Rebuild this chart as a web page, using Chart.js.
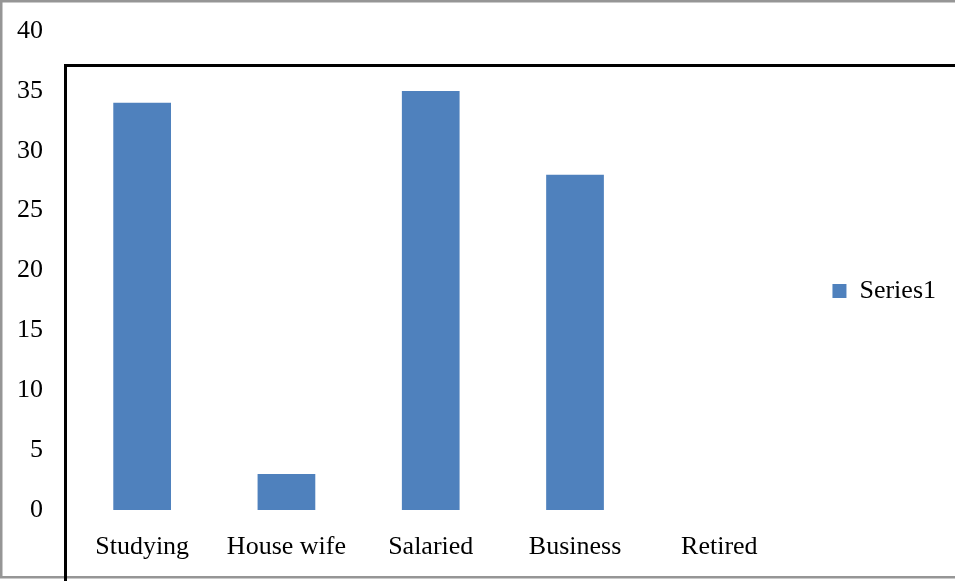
<!DOCTYPE html>
<html>
<head>
<meta charset="utf-8">
<script src="https://cdn.jsdelivr.net/npm/chart.js@4/dist/chart.umd.min.js"></script>
<style>
html,body{margin:0;padding:0;background:#fff;}
#wrap{width:955px;height:581px;position:relative;}
</style>
</head>
<body>
<div id="wrap"><canvas id="c" width="955" height="581"></canvas></div>
<script>
const categories = ["Studying", "House wife", "Salaried", "Business", "Retired"];
const series1 = [34, 3, 35, 28, 0];
const seriesName = "Series1";
const yTicks = [0, 5, 10, 15, 20, 25, 30, 35, 40];

const FONT = "'Liberation Serif', 'Times New Roman', serif";

const framePlugin = {
  id: 'frame',
  beforeDraw(chart) {
    const ctx = chart.ctx;
    ctx.save();
    ctx.fillStyle = '#fff';
    ctx.fillRect(0, 0, chart.width, chart.height);
    ctx.strokeStyle = '#969696';
    ctx.lineWidth = 2.5;
    ctx.strokeRect(1.25, 1.25, chart.width + 20, 576);
    ctx.strokeStyle = '#000';
    ctx.lineWidth = 3;
    ctx.strokeRect(65.5, 65.5, chart.width + 50, chart.height + 50);
    ctx.restore();
  }
};

const legendShift = {
  id: 'legendShift',
  afterLayout(chart) {
    if (chart.legend) {
      chart.legend.top -= 6;
      chart.legend.bottom -= 6;
    }
  }
};

new Chart(document.getElementById('c'), {
  type: 'bar',
  data: {
    labels: categories,
    datasets: [{
      label: seriesName,
      data: series1,
      backgroundColor: '#4F81BD',
      borderWidth: 0,
      barPercentage: 0.4,
      categoryPercentage: 1.0
    }]
  },
  options: {
    responsive: false,
    animation: false,
    devicePixelRatio: 1,
    layout: { padding: { left: 0, right: 9, top: 31, bottom: 18 } },
    plugins: {
      tooltip: { enabled: false },
      legend: {
        position: 'right',
        labels: {
          boxWidth: 14,
          boxHeight: 14,
          padding: 41,
          color: '#000',
          font: { family: FONT, size: 26 }
        }
      }
    },
    scales: {
      x: {
        grid: { display: false, drawTicks: false },
        border: { display: false },
        ticks: { color: '#000', font: { family: FONT, size: 26 }, padding: 22, maxRotation: 0 },
        afterFit(scale) { scale.height = 53; }
      },
      y: {
        min: 0,
        max: 40,
        afterBuildTicks(scale) { scale.ticks = yTicks.map(v => ({ value: v })); },
        afterFit(scale) { scale.width = 70; scale.paddingTop = 0; scale.paddingBottom = 0; },
        grid: { display: false, drawTicks: false },
        border: { display: false },
        ticks: { color: '#000', font: { family: FONT, size: 26 }, padding: 27 }
      }
    }
  },
  plugins: [framePlugin, legendShift]
});
</script>
</body>
</html>
